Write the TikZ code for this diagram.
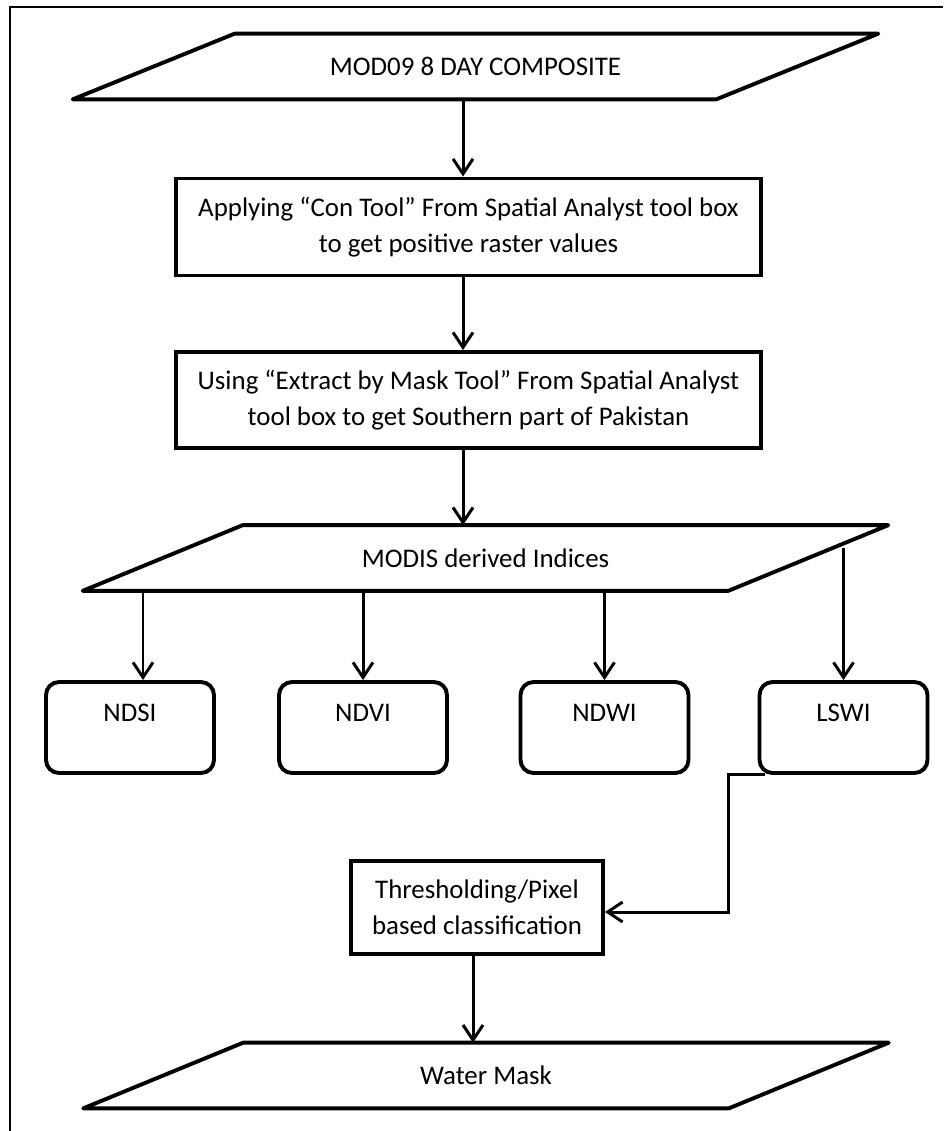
\documentclass[tikz,border=0pt]{standalone}
\usepackage{fontspec}
\setmainfont{Carlito}
\usetikzlibrary{arrows.meta,calc}

% outline of an input/output parallelogram, built from a node's rectangle
\newcommand\slantframe[2]{%
  \draw[boxline,line join=round] ([xshift=#2]#1.north west) -- (#1.north east)
    -- ([xshift=-#2]#1.south east) -- (#1.south west) -- cycle;}

\begin{document}
\begin{tikzpicture}[x=0.02cm,y=-0.02cm,
  font=\fontsize{15.3}{20.5}\selectfont,
  boxline/.style={line width=0.078cm},
  arr/.style={line width=0.06cm,-{Straight Barb[length=0.3cm,width=0.4cm]}},
  procbox/.style={draw,boxline,rectangle,align=center,inner sep=0pt},
  idxbox/.style={draw,boxline,rounded corners=0.26cm,minimum width=3.36cm,
    minimum height=1.82cm,inner sep=0pt,text height=0.32cm,text depth=0.58cm},
  iobox/.style={inner sep=0pt,minimum width=16.1cm,minimum height=1.3cm}
]
\useasboundingbox (0,0) rectangle (943,1131);

% frame
\draw[line width=0.04cm] (10,1131) -- (10,7) -- (943,7);

% nodes
\node[iobox] (src) at (475.5,66.5) {MOD09 8 DAY COMPOSITE};
\slantframe{src}{3.24cm}

\node[procbox,minimum width=11.7cm,minimum height=1.94cm] (con) at (468.5,227)
  {Applying “Con Tool” From Spatial Analyst tool box\\to get positive raster values};

\node[procbox,minimum width=11.7cm,minimum height=1.92cm] (mask) at (468.5,400)
  {Using “Extract by Mask Tool” From Spatial Analyst\\tool box to get Southern part of Pakistan};

\node[iobox] (idx) at (485.5,558) {MODIS derived Indices};
\slantframe{idx}{3.2cm}

\node[idxbox] (ndsi) at (130,727.5) {NDSI};
\node[idxbox] (ndvi) at (363,727.5) {NDVI};
\node[idxbox] (ndwi) at (604.5,727.5) {NDWI};
\node[idxbox] (lswi) at (843.5,727.5) {LSWI};

\node[procbox,minimum width=5.04cm,minimum height=1.86cm] (thr) at (477,907.5)
  {Thresholding/Pixel\\based classification};

\node[iobox] (water) at (486,1075.5) {Water Mask};
\slantframe{water}{3.2cm}

% connectors
\coordinate (spine) at (463,0);
\coordinate (tap) at (843.5,548);
\draw[arr] (spine |- src.south) -- (spine |- con.north);
\draw[arr] (spine |- con.south) -- (spine |- mask.north);
\draw[arr] (spine |- mask.south) -- (spine |- idx.north);

\draw[arr] ([xshift=0.26cm]ndsi.north |- idx.south) -- ([xshift=0.26cm]ndsi.north);
\draw[arr] (ndvi.north |- idx.south) -- (ndvi.north);
\draw[arr] (ndwi.north |- idx.south) -- (ndwi.north);
\draw[arr] (tap) -- (tap |- lswi.north);

\draw[arr] ([xshift=0.14cm]lswi.south west) -- ++(-0.72cm,0)
  |- ([yshift=-0.09cm]thr.east);
\draw[arr] ([xshift=-0.08cm]thr.south) -- ([xshift=-0.08cm]thr.south |- water.north);
\end{tikzpicture}
\end{document}
